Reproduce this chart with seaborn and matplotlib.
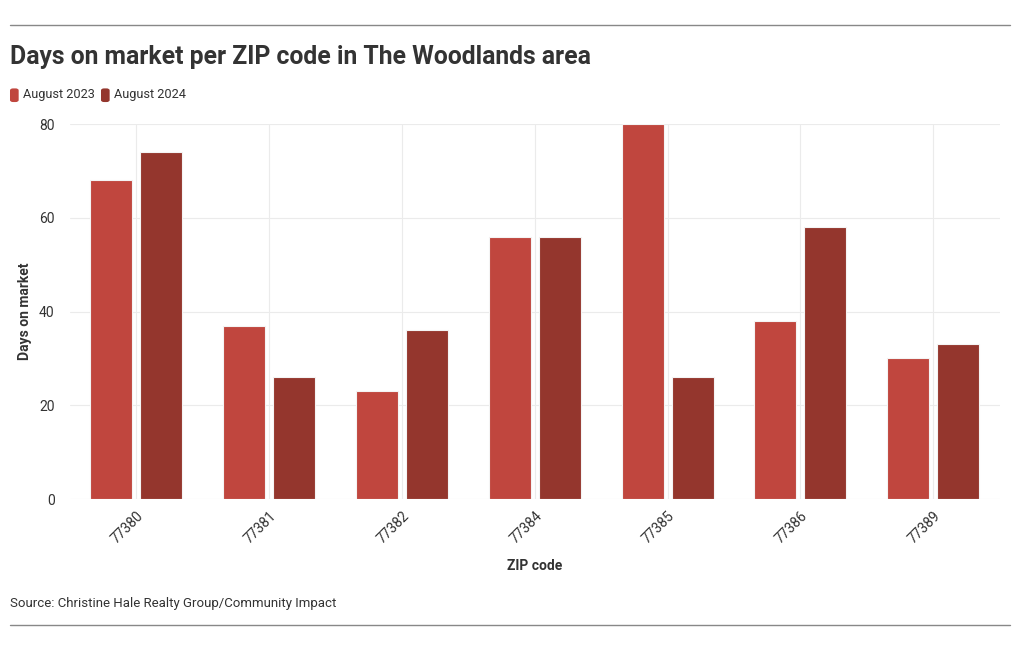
import pandas as pd
import matplotlib.pyplot as plt
import seaborn as sns
from matplotlib.patches import FancyBboxPatch
from matplotlib.lines import Line2D

# data
zip_codes = ["77380", "77381", "77382", "77384", "77385", "77386", "77389"]
aug_2023 = [68, 37, 23, 56, 80, 38, 30]
aug_2024 = [74, 26, 36, 56, 26, 58, 33]
series_names = ["August 2023", "August 2024"]
colors = ["#C0463E", "#94362D"]

df = pd.DataFrame({
    "ZIP code": zip_codes * 2,
    "Days": aug_2023 + aug_2024,
    "Period": [series_names[0]] * len(zip_codes) + [series_names[1]] * len(zip_codes),
})

sns.set_style("white")
plt.rcParams["font.family"] = ["Roboto", "DejaVu Sans"]

fig = plt.figure(figsize=(10.2, 6.5), dpi=100)
ax = fig.add_axes([0.0686, 0.2323, 0.9114, 0.5767])

sns.barplot(data=df, x="ZIP code", y="Days", hue="Period", palette=colors,
            width=0.752, gap=0.16, edgecolor="#f4f4f4", linewidth=0.8,
            saturation=1, legend=False, ax=ax)

ax.set_ylim(0, 80)
ax.set_yticks([0, 20, 40, 60, 80])
ax.set_xlim(-0.5, len(zip_codes) - 0.5)
ax.grid(True, color="#ebebeb", linewidth=0.8)
ax.set_axisbelow(True)
for s in ax.spines.values():
    s.set_visible(False)
ax.tick_params(axis="both", length=0, labelsize=10, labelcolor="#333333")
ax.tick_params(axis="y", pad=11)
ax.tick_params(axis="x", pad=7)
plt.setp(ax.get_xticklabels(), rotation=45, ha="right", rotation_mode="anchor")
ax.set_xlabel("ZIP code", fontsize=10, fontweight="bold", color="#333333", labelpad=9)
ax.set_ylabel("Days on market", fontsize=10, fontweight="bold", color="#333333", labelpad=5)

# title, legend, source, rules
fig.text(0.0098, 0.912, "Days on market per ZIP code in The Woodlands area",
         fontsize=17.8, fontweight="bold", color="#333333", va="center", ha="left")

for lx, name, c in zip([0.0098, 0.099], series_names, colors):
    fig.patches.append(FancyBboxPatch((lx, 0.843), 0.0085, 0.021,
                                      boxstyle="round,pad=0,rounding_size=0.003",
                                      transform=fig.transFigure, facecolor=c,
                                      edgecolor="none"))
    fig.text(lx + 0.0125, 0.854, name, fontsize=9.2, color="#333333",
             va="center", ha="left")

fig.text(0.0098, 0.072, "Source: Christine Hale Realty Group/Community Impact",
         fontsize=9.5, color="#333333", va="center", ha="left")

for y in (0.9615, 0.0385):
    fig.add_artist(Line2D([0.0098, 0.9902], [y, y], transform=fig.transFigure,
                          color="#888888", linewidth=1))

fig.savefig("out.png", dpi=100)
